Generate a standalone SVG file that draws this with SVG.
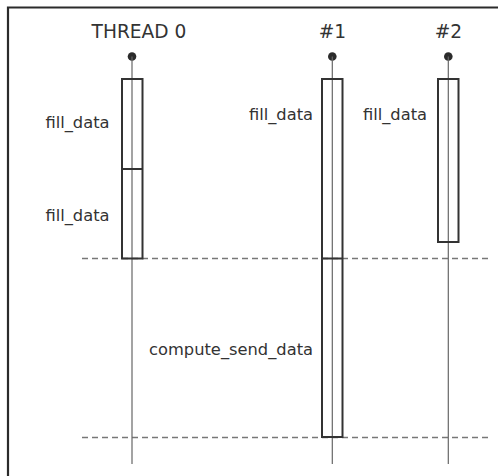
<svg xmlns="http://www.w3.org/2000/svg" width="498" height="476" viewBox="0 0 498 476">
<style>
.frame{fill:none;stroke:#2b2b2b;stroke-width:2.2}
.life{stroke:#666;stroke-width:1.2}
.box{fill:none;stroke:#333;stroke-width:2}
.div{stroke:#333;stroke-width:2}
.dash{stroke:#777;stroke-width:1.3;stroke-dasharray:6,4}
.dot{fill:#2b2b2b}
.hdr{font-family:"DejaVu Sans",sans-serif;font-size:18.6px;fill:#333;text-anchor:middle}
.lbl{font-family:"DejaVu Sans",sans-serif;font-size:16.3px;fill:#333;text-anchor:end}
</style>
<rect width="498" height="476" fill="#fff"/>
<path class="frame" d="M8,476 V7.5 H498"/>
<g id="connectors">
<line class="dash" x1="82" y1="258.5" x2="488" y2="258.5"/>
<line class="dash" x1="82" y1="437.5" x2="488" y2="437.5"/>
</g>
<g id="thread0">
<text class="hdr" x="139" y="37.5">THREAD 0</text>
<circle class="dot" cx="132" cy="56.5" r="4.3"/>
<line class="life" x1="132" y1="56.5" x2="132" y2="464"/>
<rect class="box" x="122" y="79" width="20.5" height="179.5"/>
<line class="div" x1="122" y1="169" x2="142.5" y2="169"/>
<text class="lbl" x="109.5" y="127.5">fill_data</text>
<text class="lbl" x="109.5" y="221">fill_data</text>
</g>
<g id="thread1">
<text class="hdr" x="332.5" y="37.5">#1</text>
<circle class="dot" cx="332.3" cy="56.5" r="4.3"/>
<line class="life" x1="332.3" y1="56.5" x2="332.3" y2="464"/>
<rect class="box" x="322" y="79" width="20.5" height="358"/>
<line class="div" x1="322" y1="258.5" x2="342.5" y2="258.5"/>
<text class="lbl" x="313" y="120">fill_data</text>
<text class="lbl" x="313" y="355">compute_send_data</text>
</g>
<g id="thread2">
<text class="hdr" x="448.5" y="37.5">#2</text>
<circle class="dot" cx="448.3" cy="56.5" r="4.3"/>
<line class="life" x1="448.3" y1="56.5" x2="448.3" y2="464"/>
<rect class="box" x="438" y="79" width="20.5" height="163"/>
<text class="lbl" x="427" y="120">fill_data</text>
</g>
</svg>
